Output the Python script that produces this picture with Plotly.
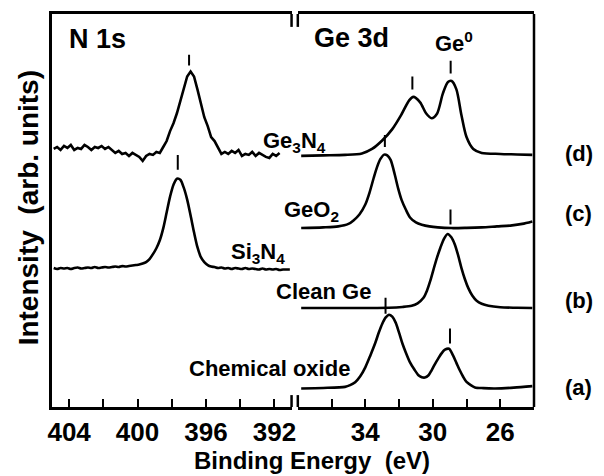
import plotly.graph_objects as go

# ---------------- data (binding energy in eV, intensity in arb. units) ----------------
# N 1s, Ge3N4 sample
n1s_ge3n4_E = [404.9, 404.7, 404.5, 404.3, 404.1, 403.9, 403.7, 403.5, 403.3, 403.1,
               402.9, 402.7, 402.5, 402.3, 402.1, 401.9, 401.7, 401.5, 401.3, 401.1,
               400.9, 400.7, 400.5, 400.3, 400.1, 399.9, 399.7, 399.5, 399.3, 399.1,
               398.9, 398.7, 398.5, 398.3, 398.1, 397.9, 397.7, 397.5, 397.3, 397.1,
               396.9, 396.7, 396.5, 396.3, 396.1, 395.9, 395.7, 395.5, 395.3, 395.1,
               394.9, 394.7, 394.5, 394.3, 394.1, 393.9, 393.7, 393.5, 393.3, 393.1,
               392.9, 392.7, 392.5, 392.3, 392.1, 391.9, 391.7]
n1s_ge3n4_I = [260, 262, 259, 263, 261, 264, 259, 261, 260, 264,
               262, 259, 262, 261, 263, 260, 262, 259, 256, 258,
               255, 256, 253, 256, 254, 252, 248, 253, 255, 254,
               257, 256, 262, 268, 278, 286, 296, 309, 322, 333,
               338, 333, 320, 307, 292, 283, 272, 268, 262, 255,
               257, 255, 258, 256, 259, 253, 255, 254, 257, 253,
               256, 254, 252, 251, 255, 253, 256]

# N 1s, Si3N4 reference
n1s_si3n4_E = [404.9, 404.7, 404.5, 404.3, 404.1, 403.9, 403.7, 403.5, 403.3, 403.1,
               402.9, 402.7, 402.5, 402.3, 402.1, 401.9, 401.7, 401.5, 401.3, 401.1,
               400.9, 400.7, 400.5, 400.3, 400.1, 399.9, 399.7, 399.5, 399.3, 399.1,
               398.9, 398.7, 398.5, 398.3, 398.1, 397.9, 397.7, 397.5, 397.3, 397.1,
               396.9, 396.7, 396.5, 396.3, 396.1, 395.9, 395.7, 395.5, 395.3, 395.1,
               394.9, 394.7, 394.5, 394.3, 394.1, 393.9, 393.7, 393.5, 393.3, 393.1,
               392.9, 392.7, 392.5, 392.3, 392.1, 391.9, 391.7, 391.5, 391.3, 391.1]
n1s_si3n4_I = [140, 139, 140, 139.5, 140, 139, 140, 140.5, 139.5, 140,
               140.5, 140, 141, 140, 140.5, 141, 140.5, 141, 141.5, 141,
               142, 141.5, 142, 142.5, 143, 143.5, 144.5, 146, 149, 154,
               160, 168, 180, 196, 212, 224, 230, 229, 221, 209,
               193, 176, 161, 151, 146, 143, 141.5, 141, 140, 140.5,
               139.5, 140, 139, 140, 139.5, 139, 140, 139, 139.5, 139,
               138.5, 139.5, 138.5, 139, 138.5, 139, 138, 138.5, 138.5, 138.5]

# Ge 3d, (d) Ge3N4
ge3d_d_E = [37.8, 36.5, 35.2, 34.2, 33.6, 33.0, 32.4, 31.85, 31.4, 31.15, 30.75, 30.4,
            30.07, 29.75, 29.4, 29.1, 28.88, 28.6, 28.3, 28.0, 27.6, 27.1, 26.0, 25.0, 24.1]
ge3d_d_I = [253, 253.5, 254, 255.5, 260, 268.5, 280, 295, 309, 312.5, 307, 296,
            291, 295.5, 316, 327.5, 328.5, 320, 294, 272, 260, 256, 255, 254.5, 254]

# Ge 3d, (c) GeO2
ge3d_c_E = [37.8, 36.5, 35.6, 35.0, 34.7, 34.35, 34.0, 33.75, 33.5, 33.3, 33.1, 32.88,
            32.7, 32.5, 32.25, 32.05, 31.85, 31.6, 31.35, 31.0, 30.65, 30.2, 29.7, 28.9,
            28.0, 27.1, 26.2, 25.3, 24.7, 24.1]
ge3d_c_I = [180.3, 181, 182, 184.5, 188, 194, 204, 216, 231, 242, 250, 254.3,
            253.5, 249, 234, 220, 208.7, 199, 191, 186, 183.7, 182, 181, 180.3,
            180.5, 181, 182, 183, 184.5, 187]

# Ge 3d, (b) clean Ge
ge3d_b_E = [37.8, 36.0, 34.0, 32.6, 31.8, 31.25, 30.9, 30.55, 30.35, 30.15, 29.95, 29.75,
            29.55, 29.35, 29.12, 28.9, 28.7, 28.5, 28.3, 28.1, 27.9, 27.65, 27.4, 27.1,
            26.7, 26.0, 25.0, 24.1]
ge3d_b_I = [99.7, 99.7, 99.8, 100, 100.8, 102, 104.5, 110, 117, 127, 139, 150.5,
            160.5, 169, 174.3, 171, 164, 153, 140, 129, 120, 112, 107, 104,
            102, 100.5, 100, 99.7]

# Ge 3d, (a) chemical oxide
ge3d_a_E = [37.8, 36.5, 35.2, 34.9, 34.6, 34.3, 34.0, 33.7, 33.4, 33.2, 33.0, 32.8,
            32.6, 32.4, 32.2, 32.0, 31.8, 31.6, 31.35, 31.1, 30.85, 30.65, 30.47, 30.25,
            30.07, 29.88, 29.68, 29.48, 29.28, 29.04, 28.8, 28.6, 28.4, 28.2, 28.0,
            27.75, 27.5, 27.0, 26.3, 25.2, 24.1]
ge3d_a_I = [18.7, 19.2, 20.3, 22, 25, 31, 40, 52, 65, 75, 83.7, 90,
            93, 91, 85, 75, 64, 55, 45, 38, 32, 30, 29.7, 32,
            37, 43, 48.7, 54, 57.7, 58.7, 52, 44.5, 37, 30.5, 25.3,
            22, 19.7, 19, 18.7, 19.5, 21]

# Peak markers: energy, lower and upper intensity of the short bar
n1s_mark_E = [396.99, 397.65]
n1s_mark_lo = [344, 239]
n1s_mark_hi = [355, 254]
ge3d_mark_E = [31.21, 28.94, 32.84, 28.95, 32.80, 28.98]
ge3d_mark_lo = [320, 336, 262, 184, 94, 64]
ge3d_mark_hi = [333, 349, 274, 199, 110, 79]

# Tick labels
n1s_ticks = [404, 402, 400, 398, 396, 394, 392]
n1s_ticktext = ["404", "", "400", "", "396", "", "392"]
ge3d_ticks = [36, 34, 32, 30, 28, 26]
ge3d_ticktext = ["", "34", "", "30", "", "26"]

# Sample labels on the right
sample_labels = ["(d)", "(c)", "(b)", "(a)"]
sample_label_I = [255, 195, 107, 20]

# ---------------- figure ----------------
FONT = "Liberation Sans, Arial, Helvetica, sans-serif"
LW = 2.6

fig = go.Figure()

def curve(x, y, xa, shape="linear"):
    fig.add_trace(go.Scatter(x=x, y=y, mode="lines", xaxis=xa, yaxis="y",
                             line=dict(color="black", width=LW, shape=shape,
                                       smoothing=0.8 if shape == "spline" else None),
                             hoverinfo="skip", showlegend=False))

curve(n1s_ge3n4_E, n1s_ge3n4_I, "x")
curve(n1s_si3n4_E, n1s_si3n4_I, "x", "spline")
curve(ge3d_d_E, ge3d_d_I, "x2", "spline")
curve(ge3d_c_E, ge3d_c_I, "x2", "spline")
curve(ge3d_b_E, ge3d_b_I, "x2", "spline")
curve(ge3d_a_E, ge3d_a_I, "x2", "spline")

def markers(E, lo, hi, xa):
    xs, ys = [], []
    for e, a, b in zip(E, lo, hi):
        xs += [e, e, None]
        ys += [a, b, None]
    fig.add_trace(go.Scatter(x=xs, y=ys, mode="lines", xaxis=xa, yaxis="y",
                             line=dict(color="black", width=2),
                             hoverinfo="skip", showlegend=False))

markers(n1s_mark_E, n1s_mark_lo, n1s_mark_hi, "x")
markers(ge3d_mark_E, ge3d_mark_lo, ge3d_mark_hi, "x2")

tickfont = dict(family=FONT, size=26, color="black", weight="bold")
common_x = dict(ticks="inside", ticklen=8, tickwidth=2, tickcolor="black",
                showline=True, linewidth=2.5, linecolor="black", mirror=True,
                showgrid=False, zeroline=False, tickfont=tickfont, anchor="y")

L_END = 0.497
R_START = 0.510

fig.update_layout(
    width=604, height=476,
    margin=dict(l=52, r=70, t=11, b=69),
    paper_bgcolor="white", plot_bgcolor="white",
    xaxis=dict(domain=[0, L_END], range=[405, 391], tickmode="array",
               tickvals=n1s_ticks, ticktext=n1s_ticktext, **common_x),
    xaxis2=dict(domain=[R_START, 1], range=[38, 24], tickmode="array",
                tickvals=ge3d_ticks, ticktext=ge3d_ticktext, **common_x),
    yaxis=dict(domain=[0, 1], range=[0, 396], showline=True, linewidth=2.5,
               linecolor="black", showticklabels=False, ticks="",
               showgrid=False, zeroline=False, anchor="x"),
)

# frame pieces: right edge and break stubs
shapes = [dict(type="line", xref="paper", yref="paper", x0=1, x1=1, y0=0, y1=1,
               line=dict(color="black", width=2.5))]
for xp in (L_END, R_START):
    shapes.append(dict(type="line", xref="paper", yref="paper", x0=xp, x1=xp,
                       y0=1, y1=1 - 13 / 396, line=dict(color="black", width=2.5)))
    shapes.append(dict(type="line", xref="paper", yref="paper", x0=xp, x1=xp,
                       y0=0, y1=12 / 396, line=dict(color="black", width=2.5)))
fig.update_layout(shapes=shapes)

def note(text, x, y, size, xref="paper", yref="paper", angle=0):
    fig.add_annotation(text=text, x=x, y=y, xref=xref, yref=yref, showarrow=False,
                       textangle=angle, xanchor="center", yanchor="middle",
                       font=dict(family=FONT, size=size, color="black", weight="bold"))

note("N 1s", 0.094, 0.937, 27)
note("Ge 3d", 0.622, 0.939, 27)
note("Ge<sup>0</sup>", 0.835, 0.929, 22)
note("Ge<sub>3</sub>N<sub>4</sub>", 0.503, 0.675, 22)
note("Si<sub>3</sub>N<sub>4</sub>", 392.95, 155, 22, xref="x", yref="y")
note("GeO<sub>2</sub>", 37.17, 198, 22, xref="x2", yref="y")
note("Clean Ge", 36.49, 116, 22, xref="x2", yref="y")
note("Chemical oxide", 0.451, 39 / 396, 22)
for t, yv in zip(sample_labels, sample_label_I):
    note(t, 1.093, yv, 22, yref="y")

note("Intensity  (arb. units)", -0.0498, 0.508, 28, angle=-90)
note("Binding Energy  (eV)", 0.539, -0.137, 24)

fig.write_html("out.html")
